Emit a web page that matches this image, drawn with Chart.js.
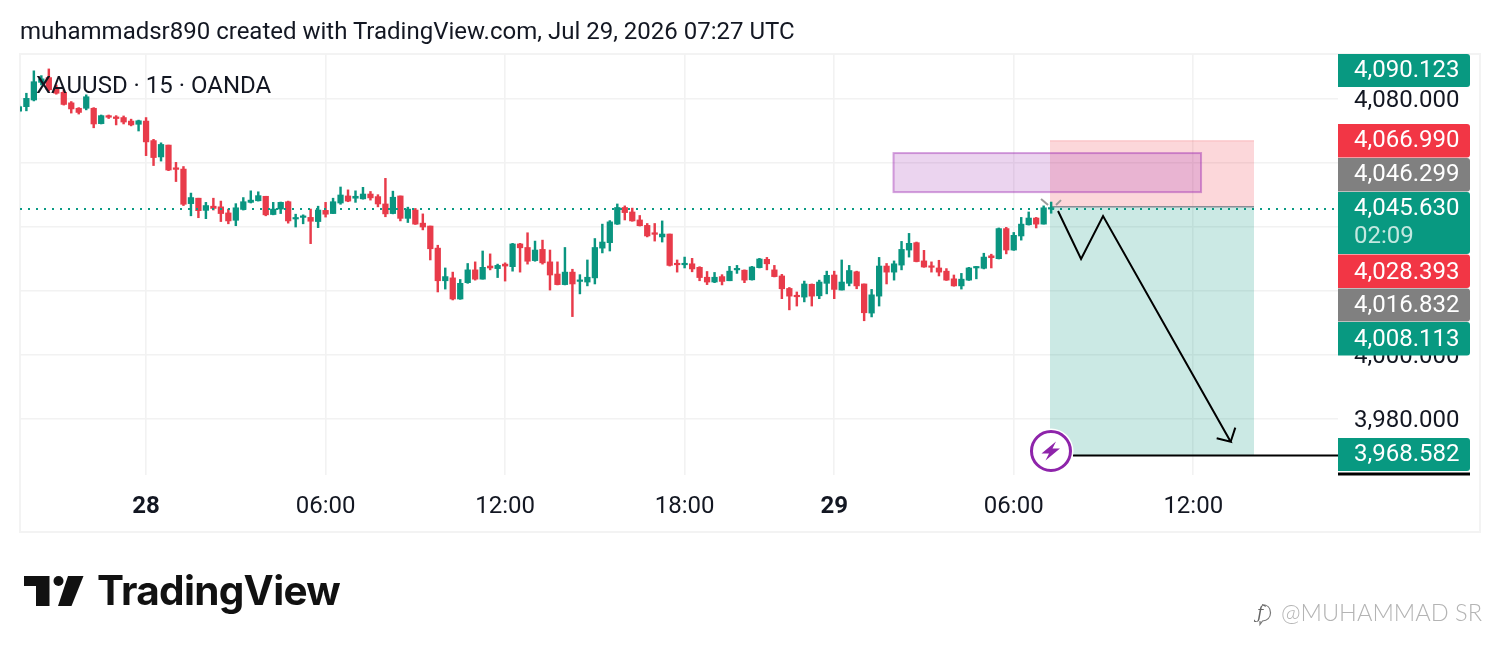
<!DOCTYPE html>
<html><head><meta charset="utf-8">
<style>
html,body{margin:0;padding:0;background:#fff;width:1500px;height:652px;overflow:hidden}
#wrap{position:relative;width:1500px;height:652px}
#frame{position:absolute;left:19px;top:53px;width:1458px;height:476px;border:2px solid #f3f3f3;pointer-events:none}
canvas{position:absolute;left:0;top:0}
.t{position:absolute;white-space:nowrap;font-family:Roboto,sans-serif;color:#131722;line-height:1}
#title{left:20px;top:19px;font-size:24px}
#sym{left:36px;top:73px;font-size:24px}
#word{left:97px;top:571px;font-family:Inter,sans-serif;font-weight:700;font-size:40.5px;letter-spacing:-0.7px;color:#111}
#mark{position:absolute;left:0;top:0}
#wm{left:1281px;top:601px;font-family:Lato,sans-serif;font-weight:300;font-size:23.6px;color:#b4b4b4}
#wmi{left:1257px;top:604px;font-family:"DejaVu Serif",serif;font-style:italic;font-size:17px;color:#666}
#wmb{position:absolute;left:0;top:0}
</style></head><body>
<div id="wrap">
<div id="frame"></div>
<canvas id="c" width="1500" height="652"></canvas>
<div class="t" id="title">muhammadsr890 created with TradingView.com, Jul 29, 2026 07:27 UTC</div>
<div class="t" id="sym">XAUUSD · 15 · OANDA</div>
<svg id="mark" width="100" height="652"><path fill="#111" d="M24 576H49.5V606H36V586H24Z"/><circle fill="#111" cx="58.5" cy="581" r="5"/><path fill="#111" d="M68 576H83.5L71.5 606H58Z"/></svg>
<div class="t" id="word">TradingView</div>
<svg id="wmb" width="1500" height="652"><path fill="none" stroke="#777" stroke-width="1.2" d="M1262 604.5c5.500 0 8.500 3.500 8.500 8.200 0 4.800-3.500 7.800-8 8.300l-2.500 3.500v-3.500"/></svg>
<div class="t" id="wmi">ƒ</div>
<div class="t" id="wm">@MUHAMMAD SR</div>
</div>
<script src="https://cdn.jsdelivr.net/npm/chart.js@4/dist/chart.umd.js"></script>
<script>
const opens=[4076.2,4077.6,4079.7,4085.2,4086.7,4083.3,4082.1,4078.8,4077.1,4077.1,
4077.1,4072.3,4074.8,4074.4,4074.2,4073.1,4072.1,4073.1,4067.0,4061.9,
4065.6,4058.5,4058.1,4047.3,4049.0,4045.2,4046.5,4046.3,4044.4,4042.1,
4045.5,4047.7,4048.2,4049.6,4043.9,4045.6,4047.9,4042.5,4043.0,4043.0,
4041.7,4045.2,4044.2,4047.5,4049.7,4049.0,4048.8,4050.3,4049.5,4047.2,
4044.2,4049.7,4042.7,4045.3,4041.2,4040.3,4033.4,4023.2,4024.1,4017.5,
4022.6,4026.6,4023.7,4027.8,4027.0,4028.4,4027.6,4034.7,4033.6,4029.5,
4033.0,4029.1,4025.3,4022.0,4025.9,4023.0,4022.8,4024.1,4033.4,4035.1,
4040.9,4046.1,4044.7,4042.2,4040.5,4038.2,4036.9,4037.8,4028.6,4028.2,
4028.5,4027.4,4024.3,4022.8,4024.5,4023.2,4026.6,4026.5,4023.5,4027.3,
4029.9,4026.6,4024.7,4020.8,4018.6,4018.1,4022.1,4018.5,4022.4,4025.0,
4020.3,4022.4,4026.0,4022.2,4013.1,4018.4,4027.8,4025.9,4028.1,4032.8,
4035.1,4029.4,4027.8,4027.2,4026.2,4023.8,4021.6,4023.4,4027.2,4027.1,
4031.0,4030.1,4039.5,4032.8,4037.2,4040.7,4042.8,4040.9,4045.6];
const closes=[4077.6,4080.2,4085.4,4086.3,4082.9,4081.8,4078.3,4076.9,4075.8,4080.7,
4072.2,4074.8,4074.3,4073.9,4072.8,4071.9,4073.2,4066.6,4061.7,4065.8,
4057.8,4058.0,4047.1,4049.2,4045.1,4046.7,4045.8,4044.2,4041.9,4046.0,
4047.9,4048.4,4049.8,4043.8,4045.6,4047.7,4041.9,4042.9,4043.4,4041.8,
4045.3,4044.0,4047.9,4050.0,4048.1,4049.6,4050.3,4049.1,4047.2,4044.1,
4049.3,4042.7,4045.6,4040.9,4040.0,4033.2,4023.2,4024.5,4017.5,4022.4,
4026.6,4023.7,4027.4,4027.2,4028.0,4027.8,4034.7,4033.5,4029.3,4032.8,
4028.8,4025.0,4022.0,4025.9,4022.2,4023.4,4024.3,4033.6,4035.3,4041.6,
4046.1,4044.5,4041.9,4040.4,4037.2,4037.7,4037.8,4028.0,4028.2,4028.6,
4026.9,4024.2,4022.8,4024.3,4023.0,4026.2,4027.0,4023.4,4027.5,4030.0,
4028.5,4024.5,4020.7,4018.4,4018.2,4022.2,4018.4,4022.8,4024.9,4020.5,
4022.8,4026.4,4021.6,4013.2,4018.8,4027.8,4025.9,4028.5,4033.0,4034.9,
4029.2,4027.5,4027.4,4025.9,4023.4,4021.6,4023.7,4027.2,4027.5,4030.6,
4030.4,4039.5,4032.8,4037.4,4040.9,4042.8,4040.9,4046.0,4046.0];
const highs=[4078.1,4081.8,4088.8,4087.3,4089.4,4084.4,4082.8,4079.2,4077.3,4081.3,
4077.3,4075.0,4075.0,4074.8,4074.7,4073.7,4073.4,4074.2,4067.4,4066.3,
4065.6,4060.2,4058.9,4050.6,4049.0,4047.7,4049.0,4048.1,4045.6,4047.3,
4049.2,4051.3,4051.0,4049.6,4047.7,4047.8,4048.1,4044.0,4043.8,4045.6,
4046.5,4047.7,4049.0,4052.5,4051.6,4051.3,4052.4,4051.1,4050.1,4055.2,
4051.2,4049.7,4046.2,4045.8,4044.1,4040.3,4034.3,4027.2,4025.9,4023.6,
4028.6,4029.1,4032.5,4031.6,4028.4,4028.8,4034.9,4034.9,4038.2,4035.6,
4035.9,4032.8,4029.1,4033.6,4026.8,4025.1,4029.7,4036.4,4040.9,4042.0,
4047.2,4046.6,4045.9,4043.6,4041.1,4041.1,4041.9,4037.8,4029.7,4030.6,
4030.2,4027.6,4026.1,4025.8,4025.1,4027.7,4028.0,4026.6,4027.7,4030.2,
4030.5,4028.0,4025.2,4021.1,4019.7,4023.1,4022.2,4023.4,4026.2,4026.2,
4029.7,4028.0,4026.2,4022.2,4020.5,4030.5,4028.6,4029.4,4035.5,4038.0,
4035.3,4032.7,4029.1,4029.6,4027.0,4025.0,4025.5,4027.4,4027.7,4031.8,
4031.5,4039.7,4039.9,4038.3,4043.0,4044.7,4043.0,4046.6,4047.8];
const lows=[4076.0,4076.3,4079.4,4084.4,4082.5,4081.5,4078.1,4075.6,4075.3,4076.6,
4071.0,4072.2,4073.9,4071.9,4072.2,4071.6,4070.0,4062.3,4059.2,4060.6,
4057.6,4054.2,4046.7,4043.5,4042.9,4042.6,4045.3,4041.7,4041.0,4040.4,
4045.3,4047.5,4048.1,4043.5,4043.8,4044.2,4041.2,4040.0,4041.0,4034.8,
4039.8,4043.1,4044.2,4047.1,4047.9,4047.7,4048.7,4048.4,4046.3,4043.2,
4044.1,4041.9,4041.4,4040.8,4039.1,4029.7,4019.7,4020.6,4017.2,4017.4,
4022.4,4023.4,4023.7,4026.6,4024.2,4023.1,4026.2,4025.9,4028.4,4029.3,
4028.4,4020.3,4021.9,4021.9,4012.0,4019.1,4021.6,4022.2,4031.9,4032.5,
4040.8,4042.2,4041.8,4040.3,4036.9,4035.6,4035.3,4027.8,4025.9,4027.2,
4026.0,4023.2,4022.0,4022.6,4021.9,4023.2,4025.5,4022.6,4023.4,4027.2,
4026.6,4024.4,4017.6,4014.1,4015.3,4016.6,4015.3,4017.6,4019.1,4017.6,
4020.3,4021.6,4020.7,4010.7,4011.9,4015.3,4022.2,4023.4,4026.6,4030.6,
4029.1,4027.4,4025.9,4024.7,4023.3,4021.5,4020.6,4023.3,4023.8,4026.9,
4027.2,4030.0,4031.6,4032.7,4035.9,4040.6,4039.7,4040.9,4044.3];

const timeTickIdx=[17,41,65,89,109,133,157];
const timeTickLabels=['28','06:00','12:00','18:00','29','06:00','12:00'];
const boldTicks=['28','29'];
const priceTicks=[3980,4000,4020,4040,4060,4080];
const labelledPriceTicks=[3980,4000,4080];

const xMin=0.147, xMax=176.35;
const lastPrice=4045.63;
const stopPrice=4066.99, entryPrice=4046.299, targetPrice=3968.582;
const positionX=[137.85,165.12];
const zoneX=[116.93,158.04];
const zonePrices=[4063.1,4050.9];
const pathX=[138.92,142.0,144.94,162.0,160.13];
const pathY=[4045,4030,4043.4,3972.9,3974.0];
const headX=[162.0,162.62];
const headY=[3972.9,3977.3];
const targetLineX=[140.92,176.35];
const markAX=[136.65,137.59], markAY=[4048.75,4046.9];
const markBX=[138.65,139.32], markBY=[4046.9,4048.4];
const alertAnchor=[137.98,3970.0];

const badgeTexts=['4,090.123','4,066.990','4,046.299','4,045.630','4,028.393','4,016.832','4,008.113','3,968.582'];
const badgeColors=['#089981','#f23645','#808080','#089981','#f23645','#808080','#089981','#089981'];
const badgeTops=[54,124,158,192,254.5,288.5,322,438];
const badgeBottoms=[87,157.5,191.5,254,288,321.5,355.5,471];
const badgeTextShift=[0,0,0,2,2,1,1,0];
const countdownText='02:09';

const GREEN='#0a9580',RED='#e83b4a';
const colors=closes.map((v,i)=>v>=opens[i]?GREEN:RED);
const pts=(xs,ys)=>xs.map((x,i)=>({x,y:ys[i]}));
const lineDs=(data,color,w,extra)=>Object.assign({type:'line',data,borderColor:color,borderWidth:w,pointRadius:0,tension:0,fill:false,order:1},extra||{});

const decor={
 id:'decor',
 beforeDatasetsDraw(ch){
  const {ctx,scales:{x,y}}=ch;
  const rect=(x0,x1,p0,p1,f)=>{ctx.fillStyle=f;ctx.fillRect(x.getPixelForValue(x0),y.getPixelForValue(p0),x.getPixelForValue(x1)-x.getPixelForValue(x0),y.getPixelForValue(p1)-y.getPixelForValue(p0));};
  ctx.save();
  rect(positionX[0],positionX[1],stopPrice,entryPrice,'rgba(242,54,69,0.2)');
  rect(positionX[0],positionX[1],entryPrice,targetPrice,'rgba(8,153,129,0.21)');
  rect(zoneX[0],zoneX[1],zonePrices[0],zonePrices[1],'rgba(156,39,176,0.2)');
  ctx.strokeStyle='rgba(156,39,176,0.42)';ctx.lineWidth=2;
  ctx.strokeRect(x.getPixelForValue(zoneX[0]),y.getPixelForValue(zonePrices[0]),x.getPixelForValue(zoneX[1])-x.getPixelForValue(zoneX[0]),y.getPixelForValue(zonePrices[1])-y.getPixelForValue(zonePrices[0]));
  ctx.lineWidth=1.5;
  [[stopPrice,'rgba(242,54,69,0.16)'],[entryPrice,'#8a8d96']].forEach(([p,col])=>{
   ctx.strokeStyle=col;ctx.beginPath();
   ctx.moveTo(x.getPixelForValue(positionX[0]),y.getPixelForValue(p));
   ctx.lineTo(x.getPixelForValue(positionX[1]),y.getPixelForValue(p));ctx.stroke();
  });
  ctx.restore();
 },
 afterDraw(ch){
  const {ctx,scales:{x,y}}=ch;
  ctx.save();
  const cx=x.getPixelForValue(alertAnchor[0]),cy=y.getPixelForValue(alertAnchor[1]);
  ctx.fillStyle='#fff';ctx.beginPath();ctx.arc(cx,cy,22.5,0,Math.PI*2);ctx.fill();
  ctx.strokeStyle='#8e24aa';ctx.lineWidth=3;ctx.beginPath();ctx.arc(cx,cy,19.5,0,Math.PI*2);ctx.stroke();
  ctx.fillStyle='#8e24aa';ctx.beginPath();
  [[5,-9.5],[-9.5,2.5],[-2,2.5],[-5.5,9.5],[9,-2.5],[1.5,-2.5]].forEach((p,i)=>i?ctx.lineTo(cx+p[0],cy+p[1]):ctx.moveTo(cx+p[0],cy+p[1]));
  ctx.closePath();ctx.fill();
  ctx.fillStyle='#000';ctx.fillRect(1338,472.5,132,3);
  ctx.font='24px Roboto, sans-serif';ctx.textBaseline='middle';ctx.textAlign='left';
  badgeTexts.forEach((t,i)=>{
   const top=badgeTops[i],bot=badgeBottoms[i];
   ctx.fillStyle=badgeColors[i];ctx.beginPath();ctx.roundRect(1338,top,132,bot-top,[0,3,3,0]);ctx.fill();
   ctx.fillStyle='#fff';
   const c=(i===3?top+15:(top+bot)/2)+badgeTextShift[i];
   ctx.fillText(t,1354,c);
   if(i===3){ctx.fillStyle='#c3e8e0';ctx.fillText(countdownText,1354,c+28);}
  });
  ctx.restore();
 }
};

new Chart(document.getElementById('c'),{
 type:'bar',
 data:{datasets:[
  {label:'wicks',data:highs.map((h,i)=>({x:i,y:[lows[i],h]})),backgroundColor:colors,barThickness:1.8,grouped:false,order:4},
  {label:'bodies',data:opens.map((o,i)=>({x:i,y:[Math.min(o,closes[i]),Math.max(o,closes[i])]})),backgroundColor:colors,barThickness:5.6,grouped:false,minBarLength:1.5,order:3},
  lineDs([{x:xMin,y:lastPrice},{x:xMax,y:lastPrice}],'#0a9a84',2,{borderDash:[2,6],order:2}),
  lineDs(pts(pathX,pathY),'#000',2),
  lineDs(pts(headX,headY),'#000',2),
  lineDs(pts(targetLineX,[targetPrice,targetPrice]),'#000',2),
  lineDs(pts(markAX,markAY),'#9a9a9a',2),
  lineDs(pts(markBX,markBY),'#9a9a9a',2)
 ]},
 options:{
  responsive:false,devicePixelRatio:1,animation:false,
  layout:{padding:{left:20,top:54,right:20,bottom:120}},
  plugins:{legend:{display:false},tooltip:{enabled:false},title:{display:false}},
  scales:{
   x:{type:'linear',offset:false,min:xMin,max:xMax,
    grid:{offset:false,color:'#f2f2f2',lineWidth:1.6,drawTicks:false},border:{display:false},
    afterBuildTicks(s){s.ticks=timeTickIdx.map(v=>({value:v}));},
    afterFit(s){s.height=57;},
    ticks:{autoSkip:false,maxRotation:0,minRotation:0,padding:18,color:'#131722',
     callback(v){return timeTickLabels[timeTickIdx.indexOf(v)];},
     font(c){const lbl=timeTickLabels[c.index];return {family:'Roboto, sans-serif',size:24,weight:boldTicks.includes(lbl)?'700':'400'};}}},
   y:{type:'linear',position:'right',min:3962.5,max:4094.0625,
    grid:{color:'#f2f2f2',lineWidth:1.6,drawTicks:false},border:{display:false},
    afterBuildTicks(s){s.ticks=priceTicks.map(v=>({value:v}));},
    afterFit(s){s.width=142;},
    ticks:{padding:16,labelOffset:1.5,color:'#131722',font:{family:'Roboto, sans-serif',size:24},
     callback(v){return labelledPriceTicks.includes(v)?v.toLocaleString('en-US',{minimumFractionDigits:3,maximumFractionDigits:3}):'';}}}
  }
 },
 plugins:[decor]
});
</script>
</body></html>
